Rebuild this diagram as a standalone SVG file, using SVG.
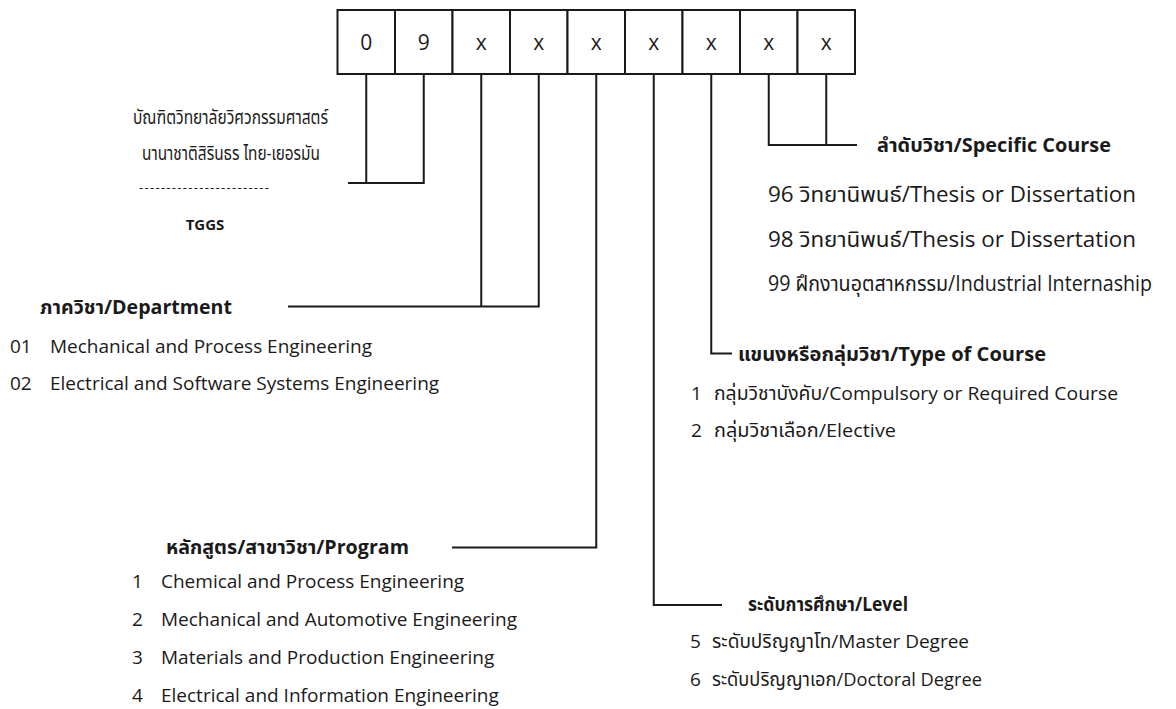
<svg xmlns="http://www.w3.org/2000/svg" width="1176" height="709" viewBox="0 0 1176 709">
  <style>
    text { font-family: "Open Sans", "Noto Sans Thai", "Noto Sans", sans-serif; fill: #1a1a1a; }
    .item { font-size: 19px; }
    .big { font-size: 21px; }
    .head { font-size: 20px; font-weight: 700; }
    .digit { font-size: 21px; text-anchor: middle; }
    .box { fill: #ffffff; stroke: #1a1a1a; stroke-width: 2; }
    .wire { fill: none; stroke: #1a1a1a; stroke-width: 2; }
  </style>
  <rect width="1176" height="709" fill="#ffffff"/>

  <!-- code cells -->
  <g id="code">
    <rect class="box" x="337.5" y="10" width="57.5" height="64"/>
    <rect class="box" x="395" y="10" width="57.5" height="64"/>
    <rect class="box" x="452.5" y="10" width="57.5" height="64"/>
    <rect class="box" x="510" y="10" width="57.5" height="64"/>
    <rect class="box" x="567.5" y="10" width="57.5" height="64"/>
    <rect class="box" x="625" y="10" width="57.5" height="64"/>
    <rect class="box" x="682.5" y="10" width="57.5" height="64"/>
    <rect class="box" x="740" y="10" width="57.5" height="64"/>
    <rect class="box" x="797.5" y="10" width="57.5" height="64"/>
    <text class="digit" x="366.25" y="50">0</text>
    <text class="digit" x="423.75" y="50">9</text>
    <text class="digit" x="481.25" y="50">x</text>
    <text class="digit" x="538.75" y="50">x</text>
    <text class="digit" x="596.25" y="50">x</text>
    <text class="digit" x="653.75" y="50">x</text>
    <text class="digit" x="711.25" y="50">x</text>
    <text class="digit" x="768.75" y="50">x</text>
    <text class="digit" x="826.25" y="50">x</text>
  </g>

  <!-- connectors from the cells to their legends -->
  <g id="connectors">
    <path class="wire" d="M366.25 74 V183 M423.75 74 V183 M348 183 H424.75"/>
    <path class="wire" d="M481.25 74 V306.5 M538.75 74 V306.5 M288 306.5 H539.75"/>
    <path class="wire" d="M452 547.5 H596.25 V74"/>
    <path class="wire" d="M653.75 74 V605 H722"/>
    <path class="wire" d="M711.25 74 V353.5 H732"/>
    <path class="wire" d="M768.75 74 V145 M826.25 74 V145 M767.75 145 H857"/>
  </g>

  <g id="school">
    <text class="item" x="133" y="124" textLength="195" lengthAdjust="spacingAndGlyphs">บัณฑิตวิทยาลัยวิศวกรรมศาสตร์</text>
    <text class="item" x="142" y="160" textLength="178" lengthAdjust="spacingAndGlyphs">นานาชาติสิรินธร ไทย-เยอรมัน</text>
    <text x="139" y="192" font-size="13" textLength="130" lengthAdjust="spacing">------------------------</text>
    <text x="205" y="230" font-size="15" font-weight="700" text-anchor="middle">TGGS</text>
  </g>

  <g id="department">
    <text class="head" x="40" y="314" textLength="192" lengthAdjust="spacingAndGlyphs">ภาควิชา/Department</text>
    <text class="item" x="10" y="353">01</text>
    <text class="item" x="50" y="353">Mechanical and Process Engineering</text>
    <text class="item" x="10" y="390">02</text>
    <text class="item" x="50" y="390">Electrical and Software Systems Engineering</text>
  </g>

  <g id="program">
    <text class="head" x="166" y="554" textLength="243" lengthAdjust="spacingAndGlyphs">หลักสูตร/สาขาวิชา/Program</text>
    <text class="item" x="132" y="588">1</text>
    <text class="item" x="161" y="588">Chemical and Process Engineering</text>
    <text class="item" x="132" y="626">2</text>
    <text class="item" x="161" y="626">Mechanical and Automotive Engineering</text>
    <text class="item" x="132" y="664">3</text>
    <text class="item" x="161" y="664">Materials and Production Engineering</text>
    <text class="item" x="132" y="702">4</text>
    <text class="item" x="161" y="702">Electrical and Information Engineering</text>
  </g>

  <g id="level">
    <text class="head" x="748" y="611" textLength="160" lengthAdjust="spacingAndGlyphs">ระดับการศึกษา/Level</text>
    <text class="item" x="690" y="648">5</text>
    <text class="item" x="712" y="648">ระดับปริญญาโท/Master Degree</text>
    <text class="item" x="690" y="686">6</text>
    <text class="item" x="712" y="686" textLength="270" lengthAdjust="spacingAndGlyphs">ระดับปริญญาเอก/Doctoral Degree</text>
  </g>

  <g id="course-type">
    <text class="head" x="738" y="361" textLength="308" lengthAdjust="spacingAndGlyphs">แขนงหรือกลุ่มวิชา/Type of Course</text>
    <text class="item" x="691" y="400">1</text>
    <text class="item" x="714" y="400" textLength="404" lengthAdjust="spacingAndGlyphs">กลุ่มวิชาบังคับ/Compulsory or Required Course</text>
    <text class="item" x="691" y="437">2</text>
    <text class="item" x="714" y="437" textLength="182" lengthAdjust="spacingAndGlyphs">กลุ่มวิชาเลือก/Elective</text>
  </g>

  <g id="specific-course">
    <text class="head" x="877" y="152" textLength="234" lengthAdjust="spacingAndGlyphs">ลำดับวิชา/Specific Course</text>
    <text class="big" x="768" y="202" textLength="368" lengthAdjust="spacingAndGlyphs">96 วิทยานิพนธ์/Thesis or Dissertation</text>
    <text class="big" x="768" y="247" textLength="368" lengthAdjust="spacingAndGlyphs">98 วิทยานิพนธ์/Thesis or Dissertation</text>
    <text class="big" x="768" y="291" font-size="18.5" textLength="384" lengthAdjust="spacingAndGlyphs">99 ฝึกงานอุตสาหกรรม/Industrial Internaship</text>
  </g>
</svg>
